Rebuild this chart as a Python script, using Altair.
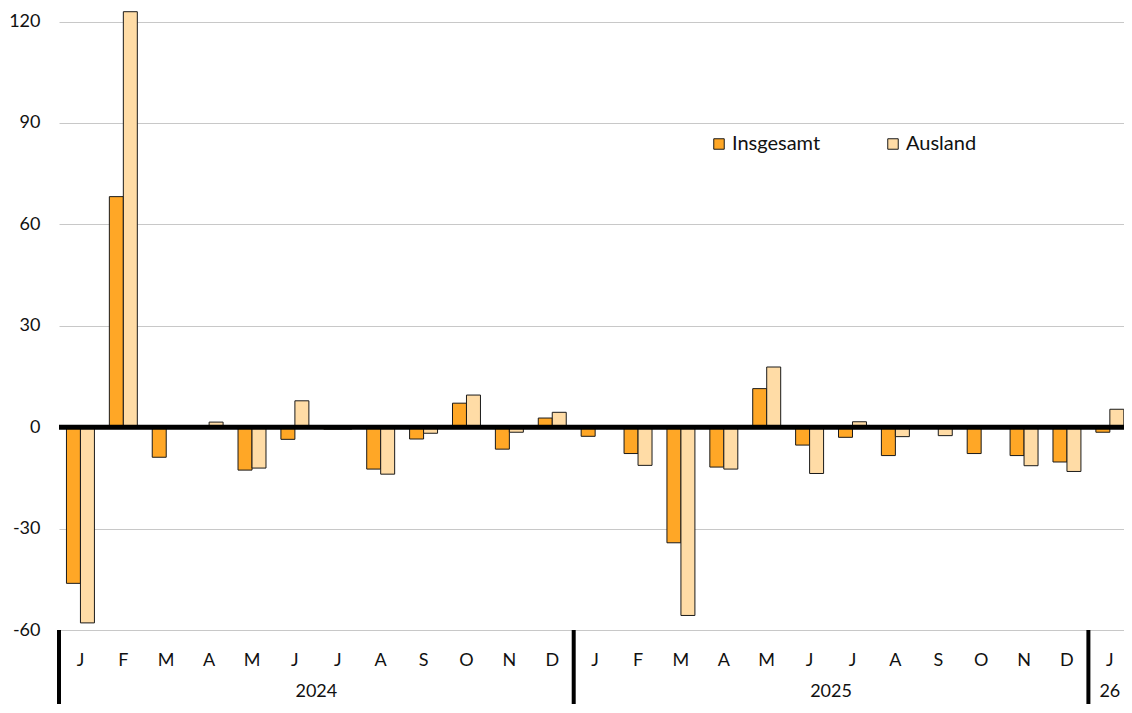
import altair as alt
import pandas as pd

months = ["J", "F", "M", "A", "M", "J", "J", "A", "S", "O", "N", "D",
          "J", "F", "M", "A", "M", "J", "J", "A", "S", "O", "N", "D", "J"]
insgesamt = [-46.2, 68.2, -8.9, 0.3, -12.7, -3.6, -0.6, -12.4, -3.5, 7.1, -6.5, 2.7,
             -2.7, -7.8, -34.2, -11.8, 11.4, -5.3, -3.0, -8.4, 0.1, -7.8, -8.4, -10.3, -1.5]
ausland = [-57.9, 122.9, 0.4, 1.5, -12.1, 7.8, -0.6, -13.9, -1.8, 9.5, -1.5, 4.4,
           -0.2, -11.3, -55.7, -12.4, 17.8, -13.7, 1.6, -2.8, -2.5, -0.1, -11.4, -13.1, 5.3]
series = ["Insgesamt", "Ausland"]
series_side = [-1, 0]  # Insgesamt left of the month centre, Ausland right
colors = ["#FFA726", "#FFDCA6"]
years = ["2024", "2025", "26"]
year_pos = [6, 18, 24.5]
separators = [0, 12, 24]
y_ticks = [-60, -30, 0, 30, 60, 90, 120]

rows = []
for i in range(len(months)):
    rows.append({"idx": i, "series": series[0], "side": series_side[0], "value": insgesamt[i]})
    rows.append({"idx": i, "series": series[1], "side": series_side[1], "value": ausland[i]})
bars_df = pd.DataFrame(rows)
months_df = pd.DataFrame({"pos": [i + 0.5 for i in range(len(months))], "label": months})
years_df = pd.DataFrame({"pos": year_pos, "label": years})
sep_df = pd.DataFrame({"pos": separators})

FONT = "Lato"
W, H = 1065, 622
BOTTOM = 74
BAR = 0.326
xq = alt.Scale(domain=[0, 24.83], nice=False, zero=False, padding=0)
yq = alt.Scale(domain=[-60, 124], nice=False, zero=False, padding=0)

bars = alt.Chart(bars_df).transform_calculate(
    x0=f"datum.idx + 0.5 + datum.side * {BAR}",
    x1=f"datum.idx + 0.5 + (datum.side + 1) * {BAR}",
).mark_bar(stroke="#1a1a1a", strokeWidth=1).encode(
    x=alt.X("x0:Q", scale=xq, axis=None),
    x2="x1:Q",
    y=alt.Y("value:Q", scale=yq,
            axis=alt.Axis(values=y_ticks, title=None, ticks=False, domain=False,
                          grid=True, gridColor="#c8c8c8", gridWidth=1,
                          labelFont=FONT, labelFontSize=18, labelColor="#111",
                          labelPadding=19, labelExpr="'' + datum.value")),
    y2=alt.datum(0),
    color=alt.Color("series:N", sort=series,
                    scale=alt.Scale(domain=series, range=colors),
                    legend=alt.Legend(title=None, orient="none", legendX=650, legendY=126,
                                      direction="horizontal", symbolType="square",
                                      symbolSize=110, symbolStrokeColor="#1a1a1a",
                                      symbolStrokeWidth=1, labelFont=FONT,
                                      labelFontSize=20, labelColor="#111",
                                      columnPadding=62, labelOffset=3)),
)

zero = alt.Chart(pd.DataFrame({"z": [0]})).mark_rule(color="black", strokeWidth=5).encode(
    y=alt.Y("z:Q", scale=yq)
)

month_text = alt.Chart(months_df).mark_text(
    font=FONT, fontSize=18, color="#111", baseline="middle"
).encode(
    x=alt.X("pos:Q", scale=xq, axis=None),
    y=alt.value(653),
    text="label:N",
)

year_text = alt.Chart(years_df).mark_text(
    font=FONT, fontSize=18, color="#111", baseline="middle"
).encode(
    x=alt.X("pos:Q", scale=xq, axis=None),
    y=alt.value(684),
    text="label:N",
)

seps = alt.Chart(sep_df).mark_rule(color="black", strokeWidth=4).encode(
    x=alt.X("pos:Q", scale=xq, axis=None),
    y=alt.value(H),
    y2=alt.value(H + BOTTOM),
)

chart = alt.layer(bars, zero, month_text, year_text, seps).properties(
    width=W, height=H,
    autosize=alt.AutoSizeParams(type="none"),
    padding={"left": 51, "top": 0, "right": 0, "bottom": BOTTOM},
).configure(background="white").configure_view(stroke=None)

chart.save("out.html", embed_options={"renderer": "svg", "actions": False})
